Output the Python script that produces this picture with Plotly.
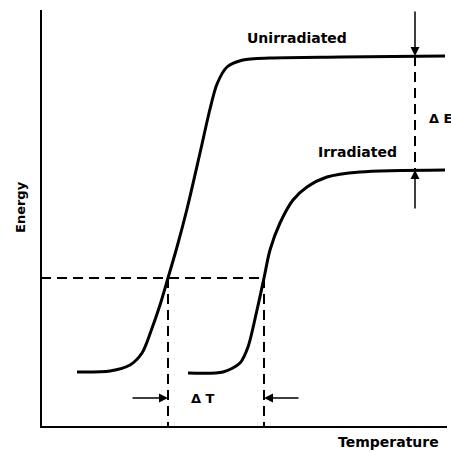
import plotly.graph_objects as go

# Unirradiated curve (Temperature, Energy) in arbitrary units
T_unirr = [36, 69, 89, 101, 110, 119, 127, 136, 146, 159, 169, 176, 186, 202, 229, 300, 404]
E_unirr = [55, 56, 62, 74, 96, 122, 149, 180, 218, 274, 318, 343, 360, 367, 369, 370, 371]

# Irradiated curve
T_irr = [147, 182, 199, 207, 216, 223, 229, 239, 252, 266, 286, 319, 404]
E_irr = [54, 55, 64, 80, 117, 149, 177, 204, 227, 240, 250, 255, 257]

# Reference levels
E_ref = 149            # energy level used for transition temperature
T_ref_unirr = 127      # transition temperature, unirradiated
T_ref_irr = 223        # transition temperature, irradiated
E_shelf_unirr = 371
E_shelf_irr = 257
T_dE = 374             # position of the ΔE marker
E_dT = 29              # height of the ΔT marker
T_axis_max = 406
E_axis_max = 417

fig = go.Figure()

# axes
fig.add_trace(go.Scatter(x=[0, 0, T_axis_max], y=[E_axis_max, 0, 0], mode="lines",
                         line=dict(color="black", width=2), hoverinfo="skip"))

# curves
fig.add_trace(go.Scatter(x=T_unirr, y=E_unirr, mode="lines", line=dict(color="black", width=3, shape="spline", smoothing=0.8), hoverinfo="skip"))
fig.add_trace(go.Scatter(x=T_irr, y=E_irr, mode="lines", line=dict(color="black", width=3, shape="spline", smoothing=0.8), hoverinfo="skip"))

dash = "10px,6px"
# horizontal reference dashed line
fig.add_trace(go.Scatter(x=[0, T_ref_irr], y=[E_ref, E_ref], mode="lines",
                         line=dict(color="black", width=2, dash=dash), hoverinfo="skip"))
# vertical dashed lines
for t in [T_ref_unirr, T_ref_irr]:
    fig.add_trace(go.Scatter(x=[t, t], y=[E_ref, 0], mode="lines",
                             line=dict(color="black", width=2, dash=dash), hoverinfo="skip"))
# ΔE dashed
fig.add_trace(go.Scatter(x=[T_dE, T_dE], y=[E_shelf_unirr, E_shelf_irr], mode="lines",
                         line=dict(color="black", width=2, dash=dash), hoverinfo="skip"))

arrow = dict(showarrow=True, arrowhead=2, arrowsize=1.2, arrowwidth=1.5, arrowcolor="black",
             axref="x", ayref="y", text="")
ann = [
    dict(x=T_ref_unirr, y=E_dT, ax=T_ref_unirr - 37, ay=E_dT, **arrow),
    dict(x=T_ref_irr, y=E_dT, ax=T_ref_irr + 36, ay=E_dT, **arrow),
    dict(x=T_dE, y=E_shelf_unirr, ax=T_dE, ay=E_axis_max, **arrow),
    dict(x=T_dE, y=E_shelf_irr, ax=T_dE, ay=E_shelf_irr - 40, **arrow),
]
font = dict(family="DejaVu Sans", size=14, color="black", weight="bold")
small = dict(family="DejaVu Sans", size=13, color="black", weight="bold")
ann += [
    dict(x=162, y=E_dT, text="Δ T", showarrow=False, font=small),
    dict(x=386, y=309, text="Δ E", showarrow=False, font=small, xanchor="left"),
    dict(x=256, y=389, text="Unirradiated", showarrow=False, font=font),
    dict(x=316, y=275, text="Irradiated", showarrow=False, font=font),
    dict(x=347, y=-15, text="Temperature", showarrow=False, font=font),
    dict(x=-21, y=220, text="Energy", showarrow=False, font=small, textangle=-90),
]

fig.update_layout(
    width=451, height=452, margin=dict(l=0, r=0, t=0, b=0),
    paper_bgcolor="white", plot_bgcolor="white", showlegend=False,
    xaxis=dict(range=[-41, 410], visible=False, fixedrange=True),
    yaxis=dict(range=[-25, 427], visible=False, fixedrange=True),
    annotations=ann,
)
fig.write_html("out.html")
